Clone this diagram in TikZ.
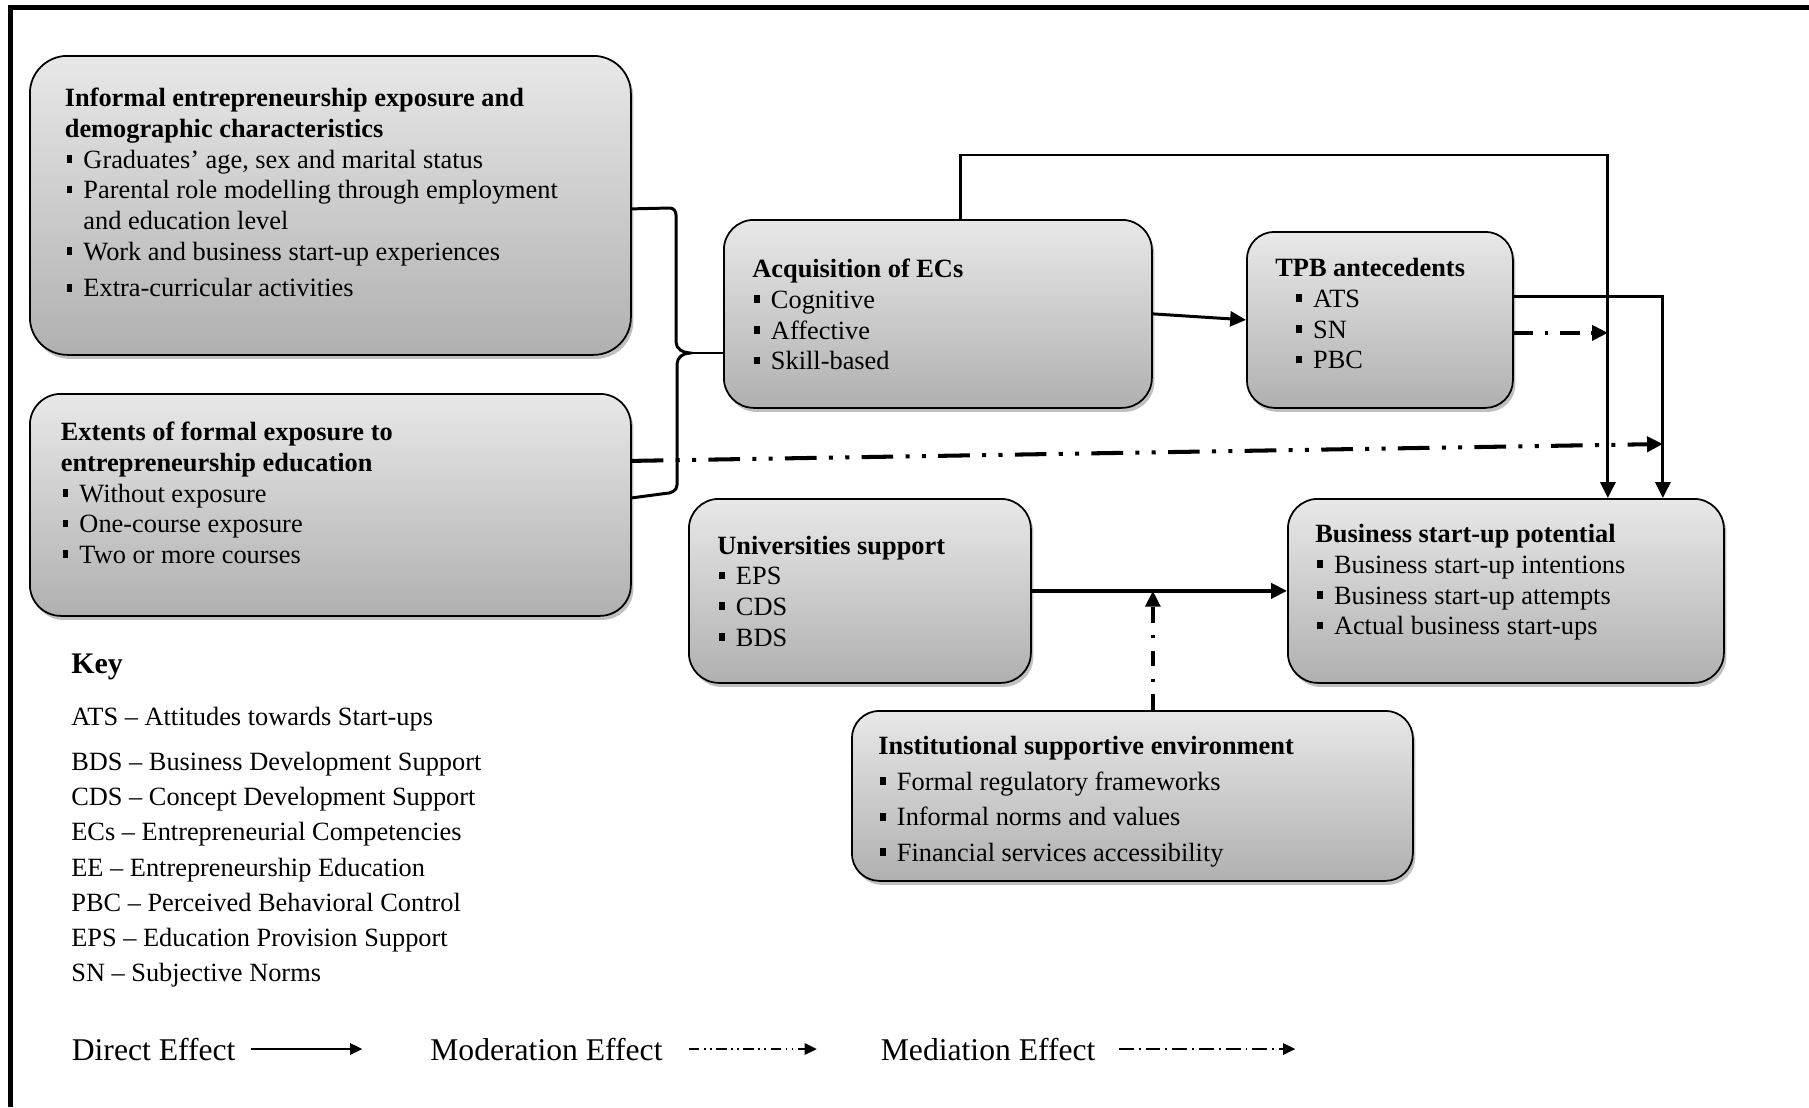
\documentclass[tikz,border=0pt]{standalone}
\usepackage{fontspec}
\setmainfont{Liberation Serif}
\usetikzlibrary{arrows.meta, positioning, shadows}

\newcommand{\bul}{\rule[0.2em]{0.2em}{0.3em}}
\newcommand{\hd}[1]{\multicolumn{2}{@{}l@{}}{\textbf{#1}}}

\begin{document}
\begin{tikzpicture}[
            every node/.style={font=\fontsize{15}{17.5}\selectfont, inner sep=0pt},
            cbox/.style={draw, line width=1pt, anchor=north west,
                top color=black!9, bottom color=black!31,
                drop shadow={shadow xshift=0.05cm, shadow yshift=-0.08cm, fill=black!55, opacity=0.45}},
            direct/.style={line width=1.7pt, -{Triangle[length=9pt,width=8.5pt]}},
            moder/.style={line width=2.3pt, dash pattern=on 18pt off 7pt on 2.3pt off 7pt on 2.3pt off 7pt,
                -{Triangle[length=9pt,width=8.5pt]}},
            mediat/.style={line width=2.2pt, dash pattern=on 11pt off 6.8pt on 1.8pt off 6.8pt,
                -{Triangle[length=9pt,width=8.5pt]}},
            mediatv/.style={line width=1.9pt, dash pattern=on 9pt off 7pt on 1.8pt off 7pt,
                -{Triangle[length=9pt,width=8.5pt]}},
            brace/.style={line width=1.7pt},
            keydir/.style={line width=1.1pt, -{Triangle[length=7pt,width=6.5pt]}},
            keymod/.style={line width=1.1pt, dash pattern=on 6pt off 2.5pt on 1pt off 2.5pt on 1pt off 2.5pt,
                -{Triangle[length=7pt,width=6.5pt]}},
            keymed/.style={line width=1.1pt, dash pattern=on 8.5pt off 2.8pt on 1.1pt off 2.8pt,
                -{Triangle[length=7pt,width=6.5pt]}}
        ]

        \useasboundingbox (0,0) rectangle (36.18,-22.14);
        \draw[line width=3pt] (0.21,-22.14) |- (36.18,-0.15);

        % boxes
        \node[cbox, rounded corners=0.75cm, minimum width=12.02cm, minimum height=5.98cm] (inf) at (0.58,-1.10) {};
        \node[cbox, rounded corners=0.62cm, minimum width=12.02cm, minimum height=4.44cm] (ext) at (0.58,-7.86) {};
        \node[cbox, rounded corners=0.6cm, minimum width=8.56cm, minimum height=3.76cm] (acq) at (14.46,-4.38) {};
        \node[cbox, rounded corners=0.55cm, minimum width=5.32cm, minimum height=3.52cm] (tpb) at (24.92,-4.62) {};
        \node[cbox, rounded corners=0.6cm, minimum width=6.84cm, minimum height=3.68cm] (univ) at (13.76,-9.96) {};
        \node[cbox, rounded corners=0.6cm, minimum width=8.72cm, minimum height=3.68cm] (bsp) at (25.74,-9.96) {};
        \node[cbox, rounded corners=0.55cm, minimum width=11.22cm, minimum height=3.40cm] (inst) at (17.02,-14.20) {};

        % box texts
        \node[anchor=base west] (inf-txt) at (1.29,-2.13) {
            \begin{tabular}[t]{@{\hspace{1.1pt}}l@{\hspace{6.5pt}}l@{}}
                \hd{Informal entrepreneurship exposure and} \\
                \hd{demographic characteristics}            \\
                \bul & Graduates’ age, sex and marital status       \\
                \bul & Parental role modelling through employment   \\
                     & and education level                          \\
                \bul & Work and business start-up experiences       \\[3.4pt]
                \bul & Extra-curricular activities
            \end{tabular}
        };

        \node[anchor=base west] (ext-txt) at (1.21,-8.81) {
            \begin{tabular}[t]{@{\hspace{1.1pt}}l@{\hspace{6.5pt}}l@{}}
                \hd{Extents of formal exposure to}  \\
                \hd{entrepreneurship education}     \\
                \bul & Without exposure      \\
                \bul & One-course exposure   \\
                \bul & Two or more courses
            \end{tabular}
        };

        \node[anchor=base west] (acq-txt) at (15.04,-5.55) {
            \begin{tabular}[t]{@{\hspace{1.1pt}}l@{\hspace{6.5pt}}l@{}}
                \hd{Acquisition of ECs} \\
                \bul & Cognitive   \\
                \bul & Affective   \\
                \bul & Skill-based
            \end{tabular}
        };

        \node[anchor=base west] (tpb-txt) at (25.50,-5.53) {
            \begin{tabular}[t]{@{\hspace{12pt}}l@{\hspace{6.5pt}}l@{}}
                \hd{TPB antecedents} \\
                \bul & ATS \\
                \bul & SN  \\
                \bul & PBC
            \end{tabular}
        };

        \node[anchor=base west] (univ-txt) at (14.34,-11.08) {
            \begin{tabular}[t]{@{\hspace{1.1pt}}l@{\hspace{6.5pt}}l@{}}
                \hd{Universities support} \\
                \bul & EPS \\
                \bul & CDS \\
                \bul & BDS
            \end{tabular}
        };

        \node[anchor=base west] (bsp-txt) at (26.30,-10.85) {
            \begin{tabular}[t]{@{\hspace{1.1pt}}l@{\hspace{6.5pt}}l@{}}
                \hd{Business start-up potential} \\
                \bul & Business start-up intentions \\
                \bul & Business start-up attempts   \\
                \bul & Actual business start-ups
            \end{tabular}
        };

        \node[anchor=base west, font=\fontsize{15}{20.3}\selectfont] (inst-txt) at (17.56,-15.09) {
            \begin{tabular}[t]{@{\hspace{1.1pt}}l@{\hspace{6.5pt}}l@{}}
                \hd{Institutional supportive environment} \\
                \bul & Formal regulatory frameworks     \\
                \bul & Informal norms and values        \\
                \bul & Financial services accessibility
            \end{tabular}
        };

        % brace joining the two exposure boxes
        \coordinate (tip) at (13.80,-7.06);
        \draw[brace] ([yshift=-0.07cm]inf.east) -- (13.40,-4.16) to[out=0,in=90] (13.52,-4.30)
            -- (13.52,-6.84) to[out=-90,in=180] (tip) to[out=180,in=90] (13.54,-7.28)
            -- (13.54,-9.70) to[out=-90,in=0] (13.30,-9.87) -- ([yshift=0.14cm]ext.east);
        \draw[brace] (tip) -- (acq.west |- tip);

        % direct effects
        \draw[direct] (acq.east) -- (tpb.west);
        \draw[direct] ([xshift=0.46cm]acq.north) -- ++(0,1.28) -| ([xshift=2.04cm]bsp.north);
        \draw[direct] ([yshift=0.46cm]tpb.east) -| ([xshift=3.14cm]bsp.north);
        \draw[direct, line width=2.1pt] (univ.east) -- (bsp.west);

        % moderation / mediation
        \coordinate (sn) at ([yshift=-0.26cm]tpb.east);
        \coordinate (loopx) at ([xshift=2.04cm]bsp.north);
        \coordinate (tpbx) at ([xshift=3.14cm]bsp.north);
        \coordinate (isup) at ([xshift=0.41cm]inst.north);
        \draw[mediat] (sn) -- (loopx |- sn);
        \draw[moder] ([yshift=0.88cm]ext.east) -- (tpbx |- 0,-8.88);
        \draw[mediatv] (isup) -- (isup |- univ.east);

        % key
        \node[anchor=base west, font=\fontsize{17}{20}\selectfont\bfseries] (keyhd) at (1.42,-13.46) {Key};
        \node[anchor=base west, font=\fontsize{15}{20}\selectfont] (keylist) at (1.42,-14.50) {
            \begin{tabular}[t]{@{}l@{}}
                ATS – Attitudes towards Start-ups \\[6pt]
                BDS – Business Development Support \\
                CDS – Concept Development Support \\
                ECs – Entrepreneurial Competencies \\
                EE – Entrepreneurship Education \\
                PBC – Perceived Behavioral Control \\
                EPS – Education Provision Support \\
                SN – Subjective Norms
            \end{tabular}
        };

        \node[anchor=base west, font=\fontsize{18}{21}\selectfont] (lgdir) at (1.43,-21.20) {Direct Effect};
        \node[anchor=base west, font=\fontsize{18}{21}\selectfont] (lgmod) at (8.60,-21.20) {Moderation Effect};
        \node[anchor=base west, font=\fontsize{18}{21}\selectfont] (lgmed) at (17.61,-21.20) {Mediation Effect};
        \draw[keydir] ([xshift=0.3cm]lgdir.east) -- ++(2.23,0);
        \draw[keymod] ([xshift=0.52cm]lgmod.east) -- ++(2.56,0);
        \draw[keymed] ([xshift=0.46cm]lgmed.east) -- ++(3.53,0);

    \end{tikzpicture}
\end{document}
